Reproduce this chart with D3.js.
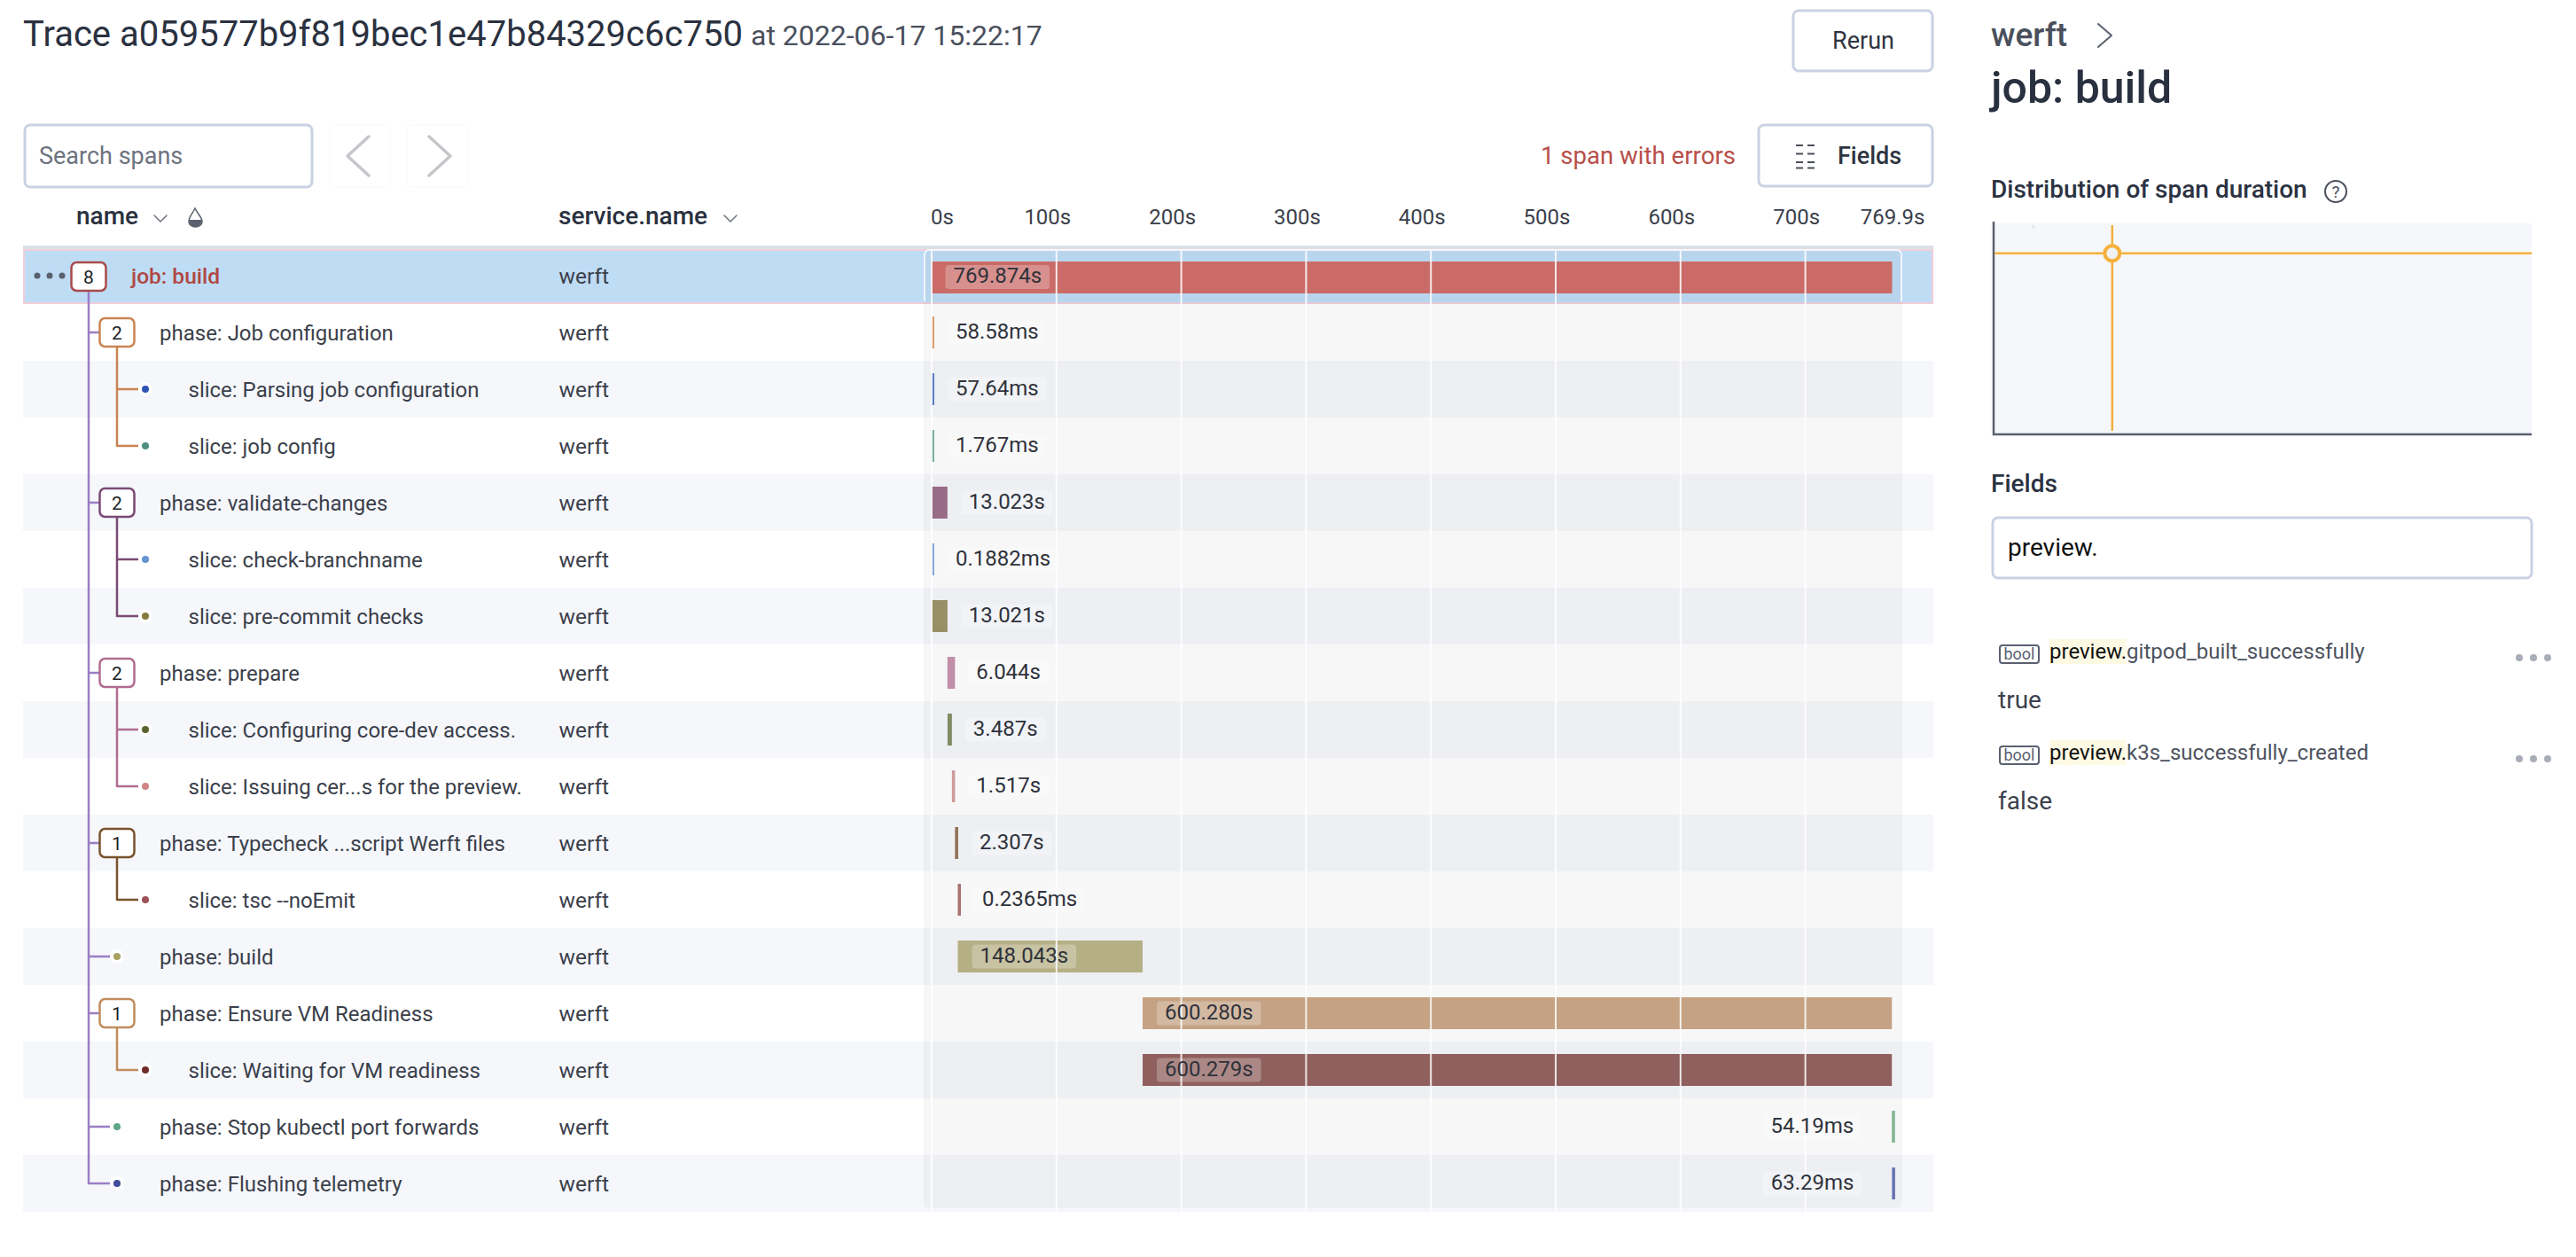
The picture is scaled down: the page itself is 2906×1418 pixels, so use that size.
<!DOCTYPE html>
<html>
<head>
<meta charset="utf-8">
<title>Trace a059577b9f819bec1e47b84329c6c750</title>
<script src="https://cdn.jsdelivr.net/npm/d3@7"></script>
<style>
  html, body { margin: 0; padding: 0; background: #fff; }
  svg { display: block; font-family: Roboto, sans-serif; }
</style>
</head>
<body>
<script>
"use strict";

// trace rows
var spanNames = [
    "job: build", "phase: Job configuration", "slice: Parsing job configuration", "slice: job config",
    "phase: validate-changes", "slice: check-branchname", "slice: pre-commit checks",
    "phase: prepare", "slice: Configuring core-dev access.", "slice: Issuing cer...s for the preview.",
    "phase: Typecheck ...script Werft files", "slice: tsc --noEmit",
    "phase: build", "phase: Ensure VM Readiness", "slice: Waiting for VM readiness",
    "phase: Stop kubectl port forwards", "phase: Flushing telemetry"
];
var spanParents = [-1, 0, 1, 1, 0, 4, 4, 0, 7, 7, 0, 10, 0, 0, 13, 0, 0];
var spanService = "werft";
var spanStarts = [0, 0, 0, 0, 0, 0, 0, 13.0, 13.1, 16.6, 19.1, 21.3, 21.3, 169.4, 169.4, 769.7, 769.8];
var spanDurations = [769.874, 0.05858, 0.05764, 0.001767, 13.023, 0.0001882, 13.021, 6.044, 3.487, 1.517,
    2.307, 0.0002365, 148.043, 600.28, 600.279, 0.05419, 0.06329];
var spanLabels = ["769.874s", "58.58ms", "57.64ms", "1.767ms", "13.023s", "0.1882ms", "13.021s", "6.044s",
    "3.487s", "1.517s", "2.307s", "0.2365ms", "148.043s", "600.280s", "600.279s", "54.19ms", "63.29ms"];
var timeTicks = [0, 100, 200, 300, 400, 500, 600, 700, 769.874];

// distribution panel: the selected span and the one faint cell
var selectedTime = 770;
var selectedDuration = 769.874;
var faintCell = [258, 883];

var fieldRows = [
    { name: "gitpod_built_successfully", value: "true" },
    { name: "k3s_successfully_created", value: "false" }
];

// colours per row
var barColors = ["#ca6b67", "#dc9c74", "#5e7fc9", "#79b0a0", "#986b87", "#86a8d8", "#998f66", "#c08fa9", "#7f8b62",
    "#d09b9e", "#8f6f54", "#aa7273", "#b5af84", "#c4a283", "#8f605d", "#80b590", "#6872ae"];
var nodeColors = ["#a84b4b", "#c98452", "#2f55b5", "#4f9080", "#7a4a74", "#6594cf", "#857c3f", "#b06c90", "#5a6430",
    "#cf8585", "#7a522d", "#9c5057", "#a6a25f", "#c08c5e", "#6f2c2a", "#5fa587", "#424b9a"];
var trunkColor = "#9b7dc4";
var textDark = "#3b3f4b";
var borderColor = "#c9d2e3";

var width = 2906, height = 1418;
var rowHeight = 64, firstRowTop = 279, rowsLeft = 26, rowsRight = 2181;

var svg = d3.select("body").append("svg").attr("width", width).attr("height", height);

function rowTop(i) { return firstRowTop + rowHeight * i; }
function rowMid(i) { return rowTop(i) + rowHeight / 2; }

function depthOf(i) { return spanParents[i] < 0 ? 0 : depthOf(spanParents[i]) + 1; }
function childCount(i) { return spanParents.filter(function (p) { return p === i; }).length; }
function lastChild(i) { return d3.max(spanParents.map(function (p, j) { return p === i ? j : -1; })); }
function nodeX(i) { return 100 + 32 * depthOf(i); }

function label(parent, x, y, str, size, fill, weight, anchor) {
    return parent.append("text").attr("x", x).attr("y", y).text(str)
        .attr("font-size", size).attr("fill", fill)
        .attr("font-weight", weight || 400).attr("text-anchor", anchor || "start");
}

function box(parent, x, y, w, h) {
    return parent.append("rect").attr("x", x).attr("y", y).attr("width", w).attr("height", h)
        .attr("rx", 6).attr("fill", "#fff").attr("stroke", borderColor).attr("stroke-width", 3);
}

function chevron(parent, x, y, w, h, dir, color, sw) {
    // dir: 1 points right, -1 points left, 0 points down
    var pts = dir === 0
        ? [[x, y], [x + w / 2, y + h], [x + w, y]]
        : [[x + (dir > 0 ? 0 : w), y], [x + (dir > 0 ? w : 0), y + h / 2], [x + (dir > 0 ? 0 : w), y + h]];
    parent.append("path").attr("d", d3.line()(pts)).attr("fill", "none")
        .attr("stroke", color).attr("stroke-width", sw).attr("stroke-linecap", "round").attr("stroke-linejoin", "round");
}

// ---- top bar
var topBar = svg.append("g");
label(topBar, 26, 52, "Trace a059577b9f819bec1e47b84329c6c750", 40, "#2a3140");
label(topBar, 847, 51, "at 2022-06-17 15:22:17", 32, "#4a4f5c");

box(topBar, 2023, 12, 157, 68);
label(topBar, 2102, 55, "Rerun", 27, "#2f3440", 400, "middle");

box(topBar, 28, 141, 324, 70);
label(topBar, 44, 185, "Search spans", 27, "#6d7380");

[[372, -1, 392], [459, 1, 484]].forEach(function (d) {
    topBar.append("rect").attr("x", d[0]).attr("y", 141).attr("width", 68).attr("height", 70).attr("rx", 4)
        .attr("fill", "#fff").attr("stroke", "#fcfcfd").attr("stroke-width", 2);
    chevron(topBar, d[2], 154, 24, 44, d[1], "#c4c6ca", 3.5);
});

label(topBar, 1958, 185, "1 span with errors", 27.6, "#b84f4a", 400, "end");
box(topBar, 1984, 141, 196, 69);
label(topBar, 2073, 185, "Fields", 27, "#2f3440", 500);
[164, 173, 182, 188].forEach(function (y, i) {
    [[2026, 2034], [2039, 2047]].forEach(function (seg) {
        topBar.append("line").attr("x1", seg[0]).attr("x2", seg[1]).attr("y1", y + i * 0.5).attr("y2", y + i * 0.5)
            .attr("stroke", "#4a4f5c").attr("stroke-width", 2);
    });
});

// ---- column headers
var head = svg.append("g");
label(head, 86, 253, "name", 28, "#2a3140", 500);
chevron(head, 174, 243, 14, 7, 0, "#6d7380", 1.5);
head.append("path")
    .attr("d", "M220 235 C216 243 213 245 213 250 A7.5 6 0 0 0 228 250 C228 245 224 243 220 235 Z")
    .attr("fill", "#fff").attr("stroke", "#5b606e").attr("stroke-width", 1.5);
head.append("path").attr("d", "M213 248 A7.5 8 0 0 0 228 248 Z").attr("fill", "#5b606e");
label(head, 630, 253, "service.name", 28, "#2a3140", 500);
chevron(head, 817, 243, 14, 7, 0, "#6d7380", 1.5);

head.append("rect").attr("x", rowsLeft).attr("y", 277).attr("width", rowsRight - rowsLeft).attr("height", 4)
    .attr("fill", "#dde1e9");

// ---- rows
var rows = svg.append("g");
rows.selectAll("rect").data(spanNames).join("rect")
    .attr("x", rowsLeft)
    .attr("y", function (d, i) { return i === 0 ? 281 : rowTop(i); })
    .attr("width", rowsRight - rowsLeft)
    .attr("height", function (d, i) { return i === 0 ? 62 : rowHeight; })
    .attr("fill", function (d, i) { return i === 0 ? "#bfdcf5" : (i % 2 ? "#ffffff" : "#f5f7fb"); });
rows.append("rect").attr("x", rowsLeft + 1).attr("y", 282).attr("width", rowsRight - rowsLeft - 2).attr("height", 60)
    .attr("fill", "none").attr("stroke", "#f2cfd9").attr("stroke-width", 2);

// ---- tree lines and nodes
var tree = svg.append("g");
spanNames.forEach(function (name, i) {
    if (childCount(i) === 0) { return; }
    var px = nodeX(i);
    tree.append("line").attr("x1", px).attr("x2", px).attr("y1", rowMid(i) + 16).attr("y2", rowMid(lastChild(i)) + 1)
        .attr("stroke", i === 0 ? trunkColor : nodeColors[i]).attr("stroke-width", 2.5);
});
spanNames.forEach(function (name, i) {
    var p = spanParents[i];
    if (p < 0) { return; }
    var end = childCount(i) ? nodeX(i) - 20 : nodeX(i) - 8;
    tree.append("line").attr("x1", nodeX(p)).attr("x2", end).attr("y1", rowMid(i)).attr("y2", rowMid(i))
        .attr("stroke", p === 0 ? trunkColor : nodeColors[p]).attr("stroke-width", 2.5);
});
spanNames.forEach(function (name, i) {
    var cx = nodeX(i), cy = rowMid(i) + (i === 0 ? 1 : 0);
    var n = childCount(i);
    if (n) {
        tree.append("rect").attr("x", cx - 19.5).attr("y", cy - 16).attr("width", 39).attr("height", 32).attr("rx", 6)
            .attr("fill", "#fff").attr("stroke", nodeColors[i]).attr("stroke-width", 2.5);
        label(tree, cx, cy + 8, n, 21, "#1c1f26", 400, "middle");
    } else {
        tree.append("circle").attr("cx", cx).attr("cy", cy).attr("r", 8).attr("fill", "#fff");
        tree.append("circle").attr("cx", cx).attr("cy", cy).attr("r", 4).attr("fill", nodeColors[i]);
    }
});
[42, 56, 70].forEach(function (x) {
    tree.append("circle").attr("cx", x).attr("cy", 311).attr("r", 3.5).attr("fill", "#5b606e");
});

// ---- row text
var names = svg.append("g");
spanNames.forEach(function (name, i) {
    var x = i === 0 ? 148 : (depthOf(i) === 1 ? 180 : 212.5);
    label(names, x, rowMid(i) + 8.5, name, i === 0 ? 24.5 : 24, i === 0 ? "#b04843" : textDark, i === 0 ? 500 : 400);
    label(names, 630.5, rowMid(i) + 8.5, spanService, 24.5, textDark);
});

// ---- timeline
var timeX = d3.scaleLinear().domain([0, 769.874]).range([1050.5, 2134.5]);

var timeline = svg.append("g");
timeline.append("rect").attr("x", 1042).attr("y", 281).attr("width", 1104).attr("height", 1082).attr("rx", 6)
    .attr("fill", "#000").attr("fill-opacity", 0.032);
timeline.append("path").attr("d", "M1043 340 V288 Q1043 282 1049 282 H2139 Q2145 282 2145 288 V340")
    .attr("fill", "none").attr("stroke", "#fff").attr("stroke-opacity", 0.8).attr("stroke-width", 2);

timeline.selectAll("rect.bar").data(spanNames).join("rect").attr("class", "bar")
    .attr("x", function (d, i) { return timeX(spanStarts[i]); })
    .attr("y", function (d, i) { return rowTop(i) + 14 + (i === 0 ? 2 : 0); })
    .attr("width", function (d, i) { return Math.max(timeX(spanDurations[i]) - timeX(0), 3.5); })
    .attr("height", 36)
    .attr("fill", function (d, i) { return barColors[i]; });

// grid lines go over the bars
var grid = svg.append("g").attr("transform", "translate(0,283)")
    .call(d3.axisBottom(timeX).tickValues(timeTicks.slice(0, -1)).tickSize(1084).tickFormat(""));
grid.select(".domain").remove();
grid.selectAll("line").attr("stroke", "#fff").attr("stroke-opacity", 0.85).attr("stroke-width", 2);

// tick labels sit left of their grid line
var axis = svg.append("g").attr("transform", "translate(0,253)")
    .call(d3.axisTop(timeX).tickValues(timeTicks).tickSize(0).tickPadding(0)
        .tickFormat(function (d) { return d === 769.874 ? "769.9s" : d + "s"; }));
axis.select(".domain").remove();
axis.selectAll("text")
    .attr("font-family", "Roboto, sans-serif").attr("font-size", 24).attr("fill", textDark)
    .attr("dy", 0)
    .attr("text-anchor", function (d) { return d === 0 ? "start" : "middle"; })
    .attr("dx", function (d) { return d === 769.874 ? 0 : (d === 0 ? -1 : -10); });

// duration labels: inside wide bars, after narrow ones, before the bar at the right edge
var chips = svg.append("g");
spanLabels.forEach(function (str, i) {
    var barX = timeX(spanStarts[i]);
    var barW = Math.max(timeX(spanDurations[i]) - timeX(0), 3.5);
    var chipX = barW > 100 ? barX + 16 : barX + barW + 15;
    var shift = i === 0 ? 1.5 : 0;
    var rect = chips.append("rect").attr("rx", 4).attr("fill", "#fff").attr("fill-opacity", 0.25);
    var t = label(chips, 0, rowMid(i) + 6.5 + shift, str, 24, "#2f323b");
    var tw = t.node().getComputedTextLength();
    var pad = 9;
    if (chipX + tw > 2146) { chipX = barX - 34 - tw - 2 * pad; }
    t.attr("x", chipX + pad);
    rect.attr("x", chipX).attr("width", tw + 2 * pad)
        .attr("y", rowMid(i) - 13.5 + shift).attr("height", 27);
});

// ---- right panel
var side = svg.append("g");
label(side, 2246, 52, "werft", 37, "#4a4f5c", 500);
chevron(side, 2367, 27, 15, 26, 1, "#5b606e", 2);
label(side, 2246, 116, "job: build", 50, "#29303f", 500);

label(side, 2246, 223, "Distribution of span duration", 28, "#2b3242", 500);
side.append("circle").attr("cx", 2635).attr("cy", 216).attr("r", 12).attr("fill", "none")
    .attr("stroke", "#4a4f5c").attr("stroke-width", 2);
label(side, 2635, 223, "?", 19, "#4a4f5c", 400, "middle");

var distLeft = 2249, distRight = 2856, distBottom = 490, distTop = 252;
var distX = d3.scaleLinear().domain([0, 3493]).range([distLeft, distRight]);
var distY = d3.scaleLinear().domain([0, 897]).range([distBottom, distTop]);

side.append("rect").attr("x", distLeft).attr("y", distTop).attr("width", distRight - distLeft).attr("height", distBottom - distTop)
    .attr("fill", "#f5f7fb");
side.append("rect").attr("x", distX(faintCell[0]) - 1).attr("y", distY(faintCell[1]) - 2).attr("width", 2).attr("height", 4)
    .attr("fill", "#dfe2e8");
side.append("path").attr("d", d3.line()([[distLeft, 250], [distLeft, distBottom], [distRight, distBottom]]))
    .attr("fill", "none").attr("stroke", "#5b606e").attr("stroke-width", 2.5);

var selX = distX(selectedTime), selY = distY(selectedDuration);
side.append("line").attr("x1", selX).attr("x2", selX).attr("y1", 254).attr("y2", 486)
    .attr("stroke", "#f4b03c").attr("stroke-width", 2.5);
side.append("line").attr("x1", distLeft + 1).attr("x2", distRight).attr("y1", selY).attr("y2", selY)
    .attr("stroke", "#f4b03c").attr("stroke-width", 2.5);
side.append("circle").attr("cx", selX).attr("cy", selY).attr("r", 8.5)
    .attr("fill", "#f0f1f5").attr("stroke", "#f4b03c").attr("stroke-width", 4);

label(side, 2246, 555, "Fields", 28, "#2b3242", 500);
box(side, 2248, 584, 608, 68);
label(side, 2265, 627, "preview.", 28, "#111");

fieldRows.forEach(function (f, i) {
    var dy = i * 114;
    side.append("rect").attr("x", 2256).attr("y", 728 + dy).attr("width", 44).attr("height", 20).attr("rx", 3)
        .attr("fill", "#fff").attr("stroke", "#5a6070").attr("stroke-width", 2);
    label(side, 2278, 744 + dy, "bool", 18, "#5a6070", 400, "middle");
    side.append("rect").attr("x", 2312).attr("y", 721 + dy).attr("width", 86.5).attr("height", 28).attr("fill", "#fdf9e3");
    var t = label(side, 2312, 743 + dy, "preview.", 24, "#111");
    t.append("tspan").attr("fill", "#4e5360").text(f.name);
    label(side, 2254, 799 + dy, f.value, 28, "#3c414e");
    [2842, 2858, 2874].forEach(function (x) {
        side.append("circle").attr("cx", x).attr("cy", 742 + dy).attr("r", 4).attr("fill", "#a8adb7");
    });
});
</script>
</body>
</html>
